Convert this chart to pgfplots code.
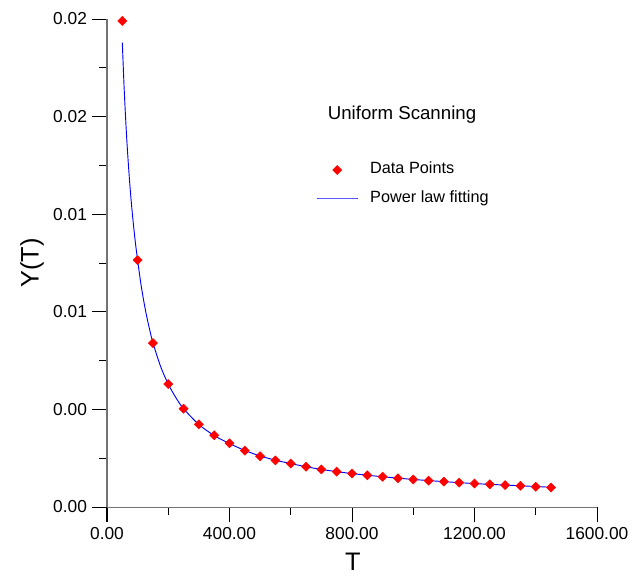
\documentclass[border=0pt]{standalone}
\usepackage{fontspec}
\setmainfont{Liberation Sans}
\usepackage{pgfplots}
\pgfplotsset{compat=1.18}

% measured data (red diamonds)
\pgfplotstableread{
T gamma
50 0.01992
100 0.01012
150 0.00672
200 0.00504
250 0.00403
300 0.00339
350 0.00294
400 0.00261
450 0.00231
500 0.00208
550 0.00191
600 0.00178
650 0.00165
700 0.00154
750 0.00145
800 0.00137
850 0.00130
900 0.00124
950 0.00118
1000 0.00113
1050 0.00108
1100 0.00104
1150 0.00100
1200 0.00096
1250 0.00093
1300 0.00090
1350 0.00087
1400 0.00083
1450 0.00080
}\datapts

% fitted curve
\pgfplotstableread{
T gamma
50 0.01903
55 0.01745
60 0.01612
65 0.01498
70 0.01401
75 0.01315
80 0.01240
85 0.01174
90 0.01114
95 0.01060
100 0.01012
110 0.00920
120 0.00844
130 0.00779
140 0.00723
150 0.00673
175 0.00576
200 0.00504
225 0.00448
250 0.00403
300 0.00338
350 0.00293
400 0.00260
450 0.00232
500 0.00209
550 0.00192
600 0.00178
650 0.00165
700 0.00154
750 0.00145
800 0.00137
900 0.00124
1000 0.00113
1100 0.00104
1200 0.00096
1300 0.00090
1400 0.00084
1450 0.00081
}\fitline

\begin{document}
\begin{tikzpicture}
\begin{scope}[overlay]
\begin{axis}[
  scale only axis,
  width=367.5pt, height=366pt,
  xmin=0, xmax=1600, ymin=0, ymax=0.02,
  axis lines=left,
  axis line style={-, draw=black!55, line width=0.75pt},
  tick align=outside,
  tick style={draw=black, line width=0.75pt},
  major tick length=11.5pt,
  minor tick length=6pt,
  xtick={0,400,800,1200,1600},
  ytick={0,0.004,0.008,0.012,0.016,0.02},
  minor x tick num=1,
  minor y tick num=1,
  scaled y ticks=false,
  scaled x ticks=false,
  /pgf/number format/assume math mode=true,
  xticklabel style={font=\fontsize{13}{15}\selectfont, /pgf/number format/.cd, fixed, fixed zerofill, precision=2, 1000 sep={}},
  yticklabel style={font=\fontsize{13}{15}\selectfont, /pgf/number format/.cd, fixed, fixed zerofill, precision=2},
  xlabel={T},
  ylabel={Y(T)},
  xlabel style={font=\fontsize{19}{21}\selectfont, at={(axis description cs:0.502,-0.131)}, anchor=base, inner sep=0pt},
  ylabel style={font=\fontsize{19}{21}\selectfont, at={(axis description cs:-0.153,0.5)}, anchor=center, rotate=0},
  clip=false,
  legend image code/.code={\draw[mark repeat=2, mark phase=2, #1] plot coordinates {(0pt,0pt) (15.375pt,0pt) (30.75pt,0pt)};},
  legend cell align=left,
  legend style={at={(axis cs:682.4,0.013238)}, anchor=west, draw=none, fill=none, inner sep=0pt,
    font=\fontsize{12.2}{14}\selectfont, row sep=9pt,
    nodes={inner sep=0pt, text height=9pt, text depth=3pt},
    /tikz/every odd column/.append style={column sep=9pt}},
]
\addplot[only marks, mark=square*, mark size=2.4pt, mark options={rotate=45, fill=red, draw=red}] table[x=T, y=gamma] {\datapts};
\addlegendentry{Data Points}
\addplot[blue, line width=0.7pt, smooth, no markers] table[x=T, y=gamma] {\fitline};
\addlegendentry{Power law fitting}
\node[font=\fontsize{14}{16}\selectfont] at (axis cs:963.3,0.016066) {Uniform Scanning};
\coordinate (bl) at (axis cs:-349.39,-0.0028689);
\coordinate (tr) at (axis cs:1746.94,0.020779);
\end{axis}
\end{scope}
\path (bl) rectangle (tr);
\end{tikzpicture}
\end{document}
